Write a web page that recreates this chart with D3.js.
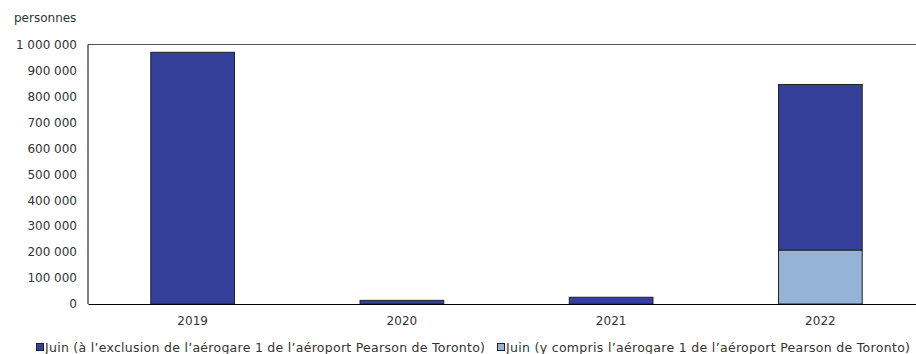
<!DOCTYPE html>
<html>
<head>
<meta charset="utf-8">
<script src="https://cdn.jsdelivr.net/npm/d3@7"></script>
<style>
  body { margin: 0; background: #fff; }
  svg text { font-family: Verdana, "DejaVu Sans", sans-serif; font-size: 12px; fill: #333; }
</style>
</head>
<body>
<svg id="chart"></svg>
<script>
// data
const years = ['2019', '2020', '2021', '2022'];
const excluding = [970000, 14000, 26000, 638000];   // Juin (à l'exclusion ...)
const including = [0, 0, 0, 208000];                // Juin (y compris ...)
const yTicks = [0, 100000, 200000, 300000, 400000, 500000, 600000, 700000, 800000, 900000, 1000000];
const seriesNames = [
  'Juin (à l\u2019exclusion de l\u2019aérogare 1 de l\u2019aéroport Pearson de Toronto)',
  'Juin (y compris l\u2019aérogare 1 de l\u2019aéroport Pearson de Toronto)'
];
const colors = ['#34409a', '#95b3d7'];

const width = 916, height = 354;
const margin = { top: 44.5, right: -9, bottom: 50, left: 88 };
const innerW = width - margin.left - margin.right;
const innerH = height - margin.top - margin.bottom;

const svg = d3.select('#chart').attr('width', width).attr('height', height);

svg.append('text')
  .attr('x', 14).attr('y', 22)
  .text('personnes');

const chart = svg.append('g')
  .attr('transform', `translate(${margin.left},${margin.top})`);

const xScale = d3.scaleBand().domain(years).range([0, innerW]).paddingInner(0.6).paddingOuter(0.3);
const yScale = d3.scaleLinear().domain([0, 1000000]).range([innerH, 0]);

// stack: including at bottom, excluding on top
const rows = years.map((y, i) => ({ year: y, inc: including[i], exc: excluding[i] }));
const stacked = d3.stack().keys(['inc', 'exc'])(rows);

// top frame line
chart.append('line')
  .attr('x1', 0).attr('x2', innerW)
  .attr('y1', 0).attr('y2', 0)
  .attr('stroke', '#555').attr('stroke-width', 1.2);

const fmt = v => d3.format(',')(v).replace(/,/g, ' ');

const yAxis = d3.axisLeft(yScale).tickValues(yTicks).tickSize(0).tickPadding(11).tickFormat(fmt);
const yAxisG = chart.append('g').call(yAxis);
yAxisG.select('.domain').remove();
yAxisG.selectAll('text').style('font-size', '12px');

stacked.forEach((layer, li) => {
  chart.selectAll(`.bar-${li}`)
    .data(layer.filter(d => d[1] - d[0] > 0))
    .join('rect')
    .attr('class', `bar-${li}`)
    .attr('x', d => xScale(d.data.year))
    .attr('width', xScale.bandwidth())
    .attr('y', d => yScale(d[1]))
    .attr('height', d => yScale(d[0]) - yScale(d[1]))
    .attr('fill', li === 0 ? colors[1] : colors[0])
    .attr('stroke', '#222')
    .attr('stroke-width', 1);
});

// axes lines
chart.append('line')
  .attr('x1', 0).attr('x2', 0).attr('y1', 0).attr('y2', innerH)
  .attr('stroke', '#000').attr('stroke-width', 1);

const xAxis = d3.axisBottom(xScale).tickSize(0).tickPadding(12);
const xAxisG = chart.append('g')
  .attr('transform', `translate(0,${innerH})`)
  .call(xAxis);
xAxisG.select('.domain').attr('stroke', '#000');
xAxisG.selectAll('text').style('font-size', '12px');

// legend
const legendX = [36, 497];
const legend = svg.append('g').attr('transform', `translate(0,${height - 2})`);
seriesNames.forEach((name, i) => {
  const g = legend.append('g').attr('transform', `translate(${legendX[i]},0)`);
  g.append('rect')
    .attr('x', 0.5).attr('y', -8.5).attr('width', 7).attr('height', 7)
    .attr('fill', colors[i]).attr('stroke', '#222').attr('stroke-width', 1);
  g.append('text').attr('x', 9).attr('y', 0)
    .style('font-size', '12.5px')
    .attr('textLength', i === 0 ? 440 : 404)
    .attr('lengthAdjust', 'spacing')
    .text(name);
});
</script>
</body>
</html>
